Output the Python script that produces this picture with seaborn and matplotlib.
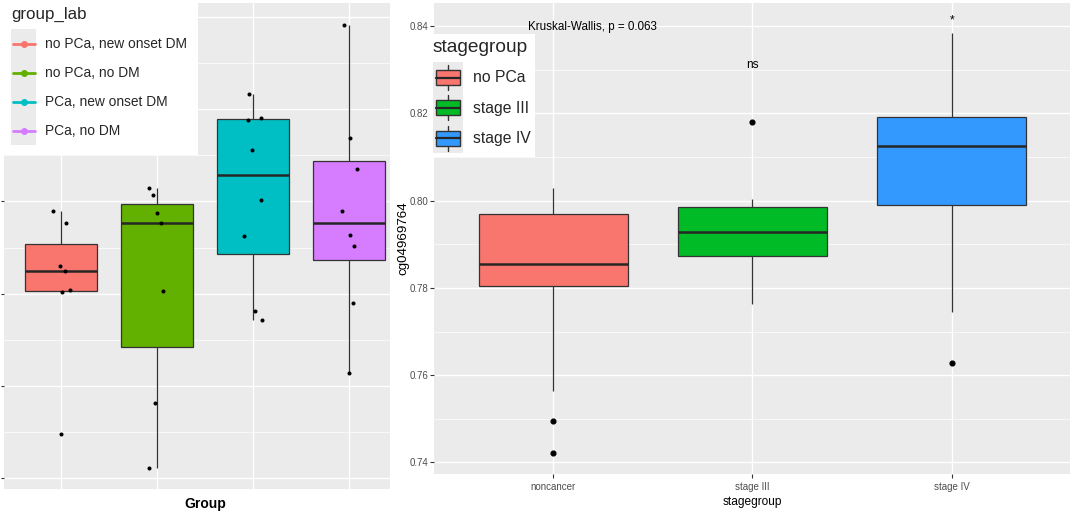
import numpy as np
import pandas as pd
import matplotlib
matplotlib.use("Agg")
import matplotlib.pyplot as plt
import seaborn as sns
from matplotlib.legend_handler import HandlerBase
from matplotlib.patches import Rectangle, Patch
from matplotlib.lines import Line2D

# ---------------- data (cg04969764 methylation) ----------------
group_labels = ["no PCa, new onset DM", "no PCa, no DM", "PCa, new onset DM", "PCa, no DM"]
group_colors = ["#F8766D", "#62B000", "#00BFC4", "#D57CFF"]

vals_nopca_newdm = [0.7980, 0.7953, 0.7861, 0.7849, 0.7809, 0.7803, 0.7496]
stage_nopca_newdm = ["noncancer", "noncancer", "noncancer", "noncancer", "noncancer", "noncancer", "noncancer"]

vals_nopca_nodm = [0.8029, 0.8014, 0.7975, 0.7954, 0.7805, 0.7564, 0.7422]
stage_nopca_nodm = ["noncancer", "noncancer", "noncancer", "noncancer", "noncancer", "noncancer", "noncancer"]

vals_pca_newdm = [0.8232, 0.8181, 0.8177, 0.8112, 0.8004, 0.7926, 0.7763, 0.7744]
stage_pca_newdm = ["stage IV", "stage III", "stage IV", "stage IV", "stage III", "stage III", "stage III", "stage IV"]

vals_pca_nodm = [0.8383, 0.8138, 0.8071, 0.7980, 0.7928, 0.7903, 0.7780, 0.7629]
stage_pca_nodm = ["stage IV", "stage IV", "stage IV", "stage III", "stage III", "stage III", "stage III", "stage IV"]

stage_order = ["noncancer", "stage III", "stage IV"]
stage_legend_labels = ["no PCa", "stage III", "stage IV"]
stage_colors = ["#F8766D", "#00BA26", "#3399FF"]

y_major = [0.74, 0.76, 0.78, 0.80, 0.82, 0.84]
y_major_labels = ["0.74", "0.76", "0.78", "0.80", "0.82", "0.84"]
y_minor = [0.75, 0.77, 0.79, 0.81, 0.83]

kw_text = "Kruskal-Wallis, p = 0.063"
kw_y = 0.8397
sig_labels = ["ns", "*"]
sig_stage = ["stage III", "stage IV"]
sig_y = [0.8304, 0.8407]

# ---------------- table ----------------
rows = []
for g, vals, stg in zip(group_labels,
                        [vals_nopca_newdm, vals_nopca_nodm, vals_pca_newdm, vals_pca_nodm],
                        [stage_nopca_newdm, stage_nopca_nodm, stage_pca_newdm, stage_pca_nodm]):
    for v, s in zip(vals, stg):
        rows.append({"group": g, "stage": s, "value": v})
df = pd.DataFrame(rows)

# ---------------- style ----------------
sns.set_theme(style="darkgrid")
plt.rcParams["font.family"] = ["Liberation Sans", "DejaVu Sans"]
plt.rcParams["axes.facecolor"] = "#EBEBEB"


class KeyDot(HandlerBase):
    def create_artists(self, legend, orig, xd, yd, w, h, fontsize, trans):
        sp = legend.labelspacing * fontsize
        x0, y0 = -xd, -yd
        bg = Rectangle((x0, y0 - sp / 2), w, h + sp, facecolor="#EBEBEB",
                       edgecolor="none", transform=trans)
        yc = y0 + h / 2
        ln = Line2D([x0 + 0.06 * w, x0 + 0.94 * w], [yc, yc], color=orig.get_color(),
                    lw=2.0, transform=trans)
        mk = Line2D([x0 + w / 2], [yc], marker="o", color=orig.get_color(),
                    markersize=4, transform=trans)
        return [bg, ln, mk]


class KeyBox(HandlerBase):
    def create_artists(self, legend, orig, xd, yd, w, h, fontsize, trans):
        sp = legend.labelspacing * fontsize
        x0, y0 = -xd, -yd
        bg = Rectangle((x0, y0 - sp / 2), w, h + sp, facecolor="#EBEBEB",
                       edgecolor="none", transform=trans)
        cx = x0 + w / 2
        wh = Line2D([cx, cx], [y0 + 0.07 * h, y0 + 0.93 * h], color="#333333",
                    lw=1.0, transform=trans)
        bx = Rectangle((x0 + 0.1 * w, y0 + 0.24 * h), 0.8 * w, 0.52 * h,
                       facecolor=orig.get_facecolor(), edgecolor="#333333", lw=1.0,
                       transform=trans)
        md = Line2D([x0 + 0.1 * w, x0 + 0.9 * w], [y0 + h / 2, y0 + h / 2],
                    color="#262626", lw=1.6, transform=trans)
        return [bg, wh, bx, md]


W, H = 1072, 514
fig = plt.figure(figsize=(W / 100, H / 100), dpi=100)
fig.patch.set_facecolor("white")
ax1 = fig.add_axes([4 / W, 1 - 489.3 / H, 386 / W, 486.3 / H])
ax2 = fig.add_axes([434.3 / W, 1 - 474 / H, 635.7 / W, 470.7 / H])

box_kw = dict(width=0.75, linecolor="#333333", linewidth=0.9, showcaps=False, whis=1.5,
              saturation=1, medianprops=dict(color="#262626", linewidth=1.8))

# left panel
sns.boxplot(data=df, x="group", y="value", hue="group", order=group_labels,
            hue_order=group_labels, palette=dict(zip(group_labels, group_colors)),
            showfliers=False, legend=False, ax=ax1, **box_kw)
np.random.seed(7)
sns.stripplot(data=df, x="group", y="value", order=group_labels, color="black",
              size=2.9, jitter=0.1, ax=ax1)

# right panel
sns.boxplot(data=df, x="stage", y="value", hue="stage", order=stage_order,
            hue_order=stage_order, palette=dict(zip(stage_order, stage_colors)),
            fliersize=3.4,
            flierprops=dict(marker="o", markerfacecolor="black", markeredgecolor="black"),
            legend=False, ax=ax2, **box_kw)

for ax in (ax1, ax2):
    ax.set_facecolor("#EBEBEB")
    for s in ax.spines.values():
        s.set_visible(False)
    ax.set_yticks(y_major)
    ax.set_yticks(y_minor, minor=True)
    ax.grid(True, which="major", color="white", linewidth=1.0)
    ax.grid(True, which="minor", axis="y", color="white", linewidth=0.5)
    ax.xaxis.grid(True, which="major", color="white", linewidth=1.0)
    ax.set_axisbelow(True)
    ax.tick_params(which="minor", length=0)

ax1.set_xlim(-0.593, 3.424)
ax1.set_ylim(0.7376, 0.8430)
ax1.tick_params(axis="x", length=0, labelbottom=False)
ax1.tick_params(axis="y", which="major", length=2.2, width=0.8, color="#333333",
                labelleft=False, left=True)
ax1.set_ylabel("")
ax1.set_xlabel("Group", fontweight="bold", fontsize=10, color="black", va="center")
ax1.xaxis.set_label_coords(0.5207, -0.0302)

ax2.set_xlim(-0.597, 2.594)
ax2.set_ylim(0.73736, 0.8452)
ax2.set_yticks(y_major, labels=y_major_labels)
ax2.tick_params(axis="both", which="major", length=3, width=0.8, color="#333333",
                labelsize=7, labelcolor="#4D4D4D", left=True, bottom=True)
ax2.tick_params(axis="y", pad=1.5)
ax2.tick_params(axis="x", pad=2.5)
ax2.set_xlabel("stagegroup", fontsize=8.6, color="black", va="center")
ax2.xaxis.set_label_coords(0.5009, -0.0601)
ax2.set_ylabel("cg04969764", fontsize=9.6, color="black", va="center")
ax2.yaxis.set_label_coords(-0.0492, 0.5)

ax2.text(-0.1255, kw_y, kw_text, fontsize=8.4, ha="left", va="center", color="black")
for lab, st, yv in zip(sig_labels, sig_stage, sig_y):
    ax2.text(stage_order.index(st), yv, lab, fontsize=8.6, ha="center", va="baseline",
             color="black")

# legends
handles1 = [Line2D([], [], color=c) for c in group_colors]
leg1 = ax1.legend(handles1, group_labels, title="group_lab", loc="upper left",
                  bbox_to_anchor=(0, 1 + 4 / H), bbox_transform=fig.transFigure,
                  borderaxespad=0, fontsize=9.9, title_fontsize=12.2,
                  handler_map={Line2D: KeyDot()}, handlelength=1.82, handleheight=2.70,
                  labelspacing=0.11, handletextpad=0.65, borderpad=0.8, frameon=True,
                  fancybox=False, framealpha=1, facecolor="white", edgecolor="none",
                  alignment="left")
leg1._legend_box.sep = 5.5

handles2 = [Patch(facecolor=c) for c in stage_colors]
leg2 = ax2.legend(handles2, stage_legend_labels, title="stagegroup", loc="upper left",
                  bbox_to_anchor=(428 / W, 1 - 34 / H), bbox_transform=fig.transFigure,
                  borderaxespad=0, fontsize=11.3, title_fontsize=13.8,
                  handler_map={Patch: KeyBox()}, handlelength=1.95, handleheight=2.47,
                  labelspacing=0.08, handletextpad=0.6, borderpad=0.3, frameon=True,
                  fancybox=False, framealpha=1, facecolor="white", edgecolor="none",
                  alignment="left")
leg2._legend_box.sep = 5.3

fig.savefig("out.png", dpi=100, facecolor="white")
